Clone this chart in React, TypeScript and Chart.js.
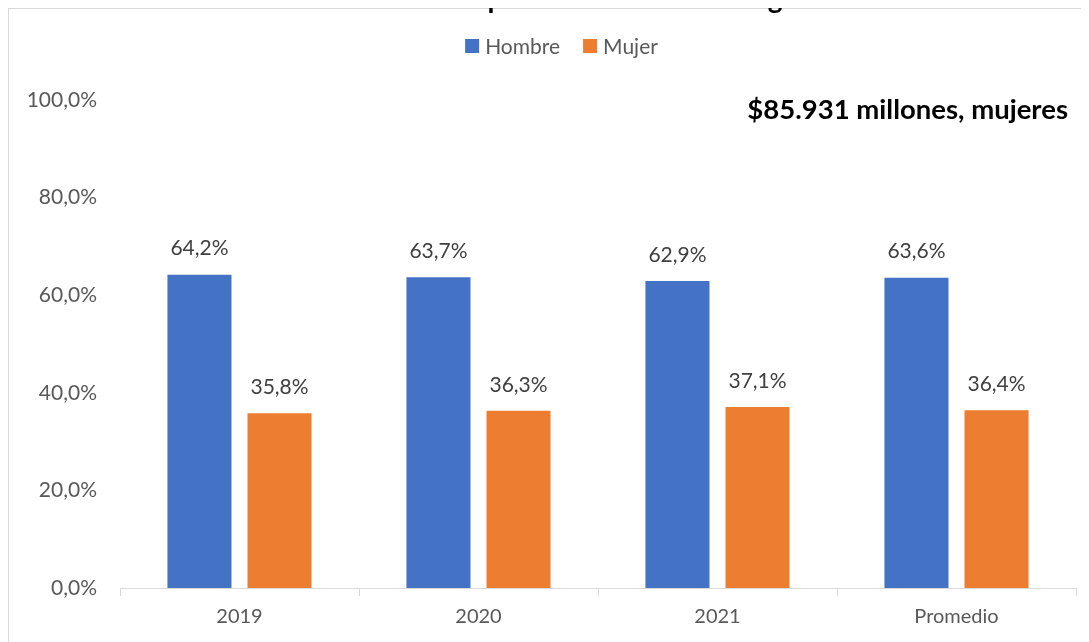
import React, { useEffect, useRef } from "react";
import { Chart, registerables } from "chart.js";

Chart.register(...registerables);

const TITLE = "Gráfica 3. Participación en montos otorgados";
const CATEGORIES = ["2019", "2020", "2021", "Promedio"];
const HOMBRE = [64.2, 63.7, 62.9, 63.6];
const MUJER = [35.8, 36.3, 37.1, 36.4];
const SERIES_NAMES = ["Hombre", "Mujer"];
const ANNOTATION = "$85.931 millones, mujeres";
const Y_MIN = 0;
const Y_MAX = 100;
const Y_STEP = 20;

const FONT = "Lato, 'Open Sans', sans-serif";
const fmt = (v: number) => v.toFixed(1).replace(".", ",") + "%";

const overlayPlugin = {
  id: "overlay",
  afterDatasetsDraw(chart: any) {
    const ctx = chart.ctx;
    ctx.save();
    // data labels
    ctx.font = `21px ${FONT}`;
    ctx.fillStyle = "#404040";
    ctx.textAlign = "center";
    ctx.textBaseline = "middle";
    chart.data.datasets.forEach((ds: any, di: number) => {
      const meta = chart.getDatasetMeta(di);
      meta.data.forEach((bar: any, i: number) => {
        ctx.fillText(fmt(ds.data[i]), bar.x, bar.y - 26);
      });
    });
    // legend
    ctx.font = `21px ${FONT}`;
    ctx.textAlign = "left";
    const box = 14;
    const gapBoxText = 6;
    const gapItems = 23;
    const items = chart.data.datasets.map((ds: any) => ({
      label: ds.label,
      color: ds.backgroundColor,
      w: box + gapBoxText + ctx.measureText(ds.label).width,
    }));
    const total = items.reduce((s: number, it: any) => s + it.w, 0) + gapItems * (items.length - 1);
    let x = chart.width / 2 - total / 2;
    const ly = 37;
    items.forEach((it: any) => {
      ctx.fillStyle = it.color;
      ctx.fillRect(x, ly - box / 2, box, box);
      ctx.fillStyle = "#595959";
      ctx.fillText(it.label, x + box + gapBoxText, ly + 1);
      x += it.w + gapItems;
    });
    // annotation
    ctx.font = `bold 27.5px ${FONT}`;
    ctx.fillStyle = "#000000";
    ctx.textAlign = "right";
    ctx.fillText(ANNOTATION, chart.chartArea.right - 8, 101);
    ctx.restore();
  },
};

export default function App() {
  const ref = useRef<HTMLCanvasElement>(null);
  useEffect(() => {
    if (!ref.current) return;
    const chart = new Chart(ref.current, {
      type: "bar",
      data: {
        labels: CATEGORIES,
        datasets: [
          { label: SERIES_NAMES[0], data: HOMBRE, backgroundColor: "#4472C4" },
          { label: SERIES_NAMES[1], data: MUJER, backgroundColor: "#ED7D31" },
        ],
      },
      options: {
        animation: false,
        responsive: false,
        maintainAspectRatio: false,
        datasets: { bar: { barPercentage: 0.8, categoryPercentage: 0.67 } },
        layout: { padding: { left: 0, right: 38, top: 91, bottom: 7 } },
        plugins: { legend: { display: false }, tooltip: { enabled: false } },
        scales: {
          x: {
            grid: {
              display: true,
              drawOnChartArea: false,
              drawTicks: true,
              tickLength: 8,
              color: "#d9d9d9",
              offset: true,
            },
            border: { display: true, color: "#d9d9d9", width: 1 },
            ticks: { color: "#595959", font: { family: FONT, size: 20 }, padding: 9 },
            afterFit: (s: any) => {
              s.height = 54;
            },
          },
          y: {
            min: Y_MIN,
            max: Y_MAX,
            grid: { display: false, drawTicks: false },
            border: { display: false },
            ticks: {
              stepSize: Y_STEP,
              color: "#595959",
              font: { family: FONT, size: 21 },
              padding: 23,
              callback: (v: any) => fmt(Number(v)),
            },
            afterFit: (s: any) => {
              s.width = 111;
            },
          },
        },
      },
      plugins: [overlayPlugin],
    });
    return () => chart.destroy();
  }, []);

  return (
    <div style={{ position: "relative", height: 634 }}>
      <div style={{ width: 1081, height: 634, overflow: "hidden", position: "relative" }}>
        <div
          style={{
            width: 1105,
            height: 660,
            border: "1px solid #d9d9d9",
            background: "#fff",
          }}
        >
          <canvas ref={ref} width={1105} height={640} style={{ display: "block" }} />
        </div>
      </div>
      <div
        style={{
          position: "absolute",
          top: -25,
          left: 0,
          width: 1107,
          zIndex: 2,
          textAlign: "center",
          fontFamily: FONT,
          fontWeight: "bold",
          fontSize: 28,
          color: "#000",
          lineHeight: "28px",
          whiteSpace: "nowrap",
        }}
      >
        {TITLE}
      </div>
    </div>
  );
}
